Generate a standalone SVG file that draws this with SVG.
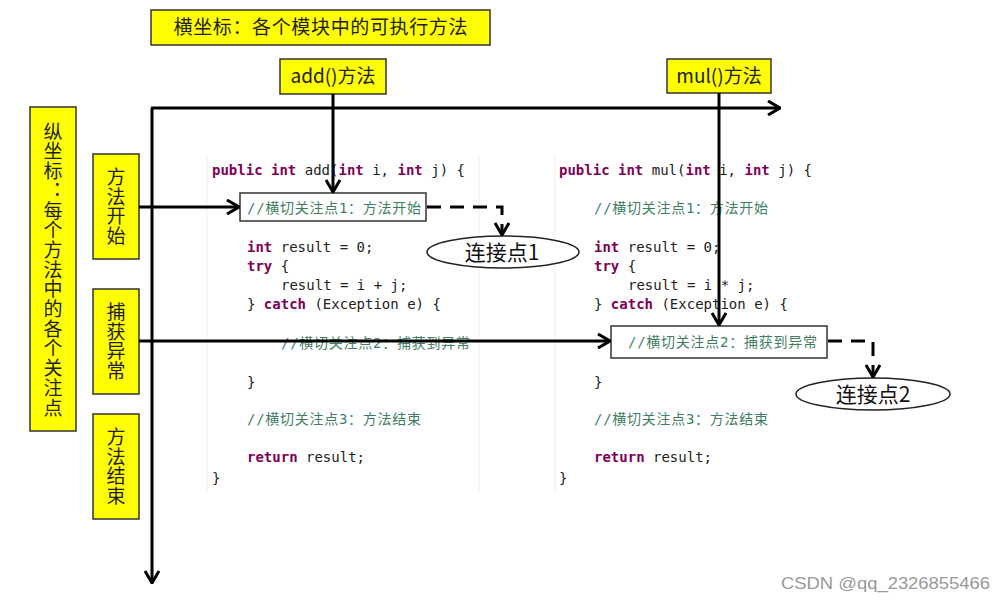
<svg xmlns="http://www.w3.org/2000/svg" width="1006" height="603" viewBox="0 0 1006 603">
<style>
.ybox{fill:#ffff00;stroke:#333;stroke-width:1.5}
.lbl{font-family:"Noto Sans CJK SC","Liberation Sans",sans-serif;font-size:19px;fill:#222}
.vl{font-family:"Noto Sans CJK SC","Liberation Sans",sans-serif;font-size:19px;fill:#222;writing-mode:vertical-rl;text-orientation:upright}
.code{font-family:"DejaVu Sans Mono","Noto Sans CJK SC",monospace;font-size:14px;fill:#222}
.kw{fill:#7f0055;font-weight:bold}
.cm{fill:#3f7f5f}
.conn{stroke:#000;stroke-width:3;fill:none}
.dash{stroke:#000;stroke-width:3;fill:none;stroke-dasharray:14 9}
.panel{stroke:#eeeeee;stroke-width:1}
.cbox{fill:#fff;stroke:#333;stroke-width:1.5}
.ell{fill:#fff;stroke:#222;stroke-width:1.5}
.jp{font-family:"Noto Sans CJK SC","Liberation Sans",sans-serif;font-size:21px;fill:#111}
</style>
<defs>
<marker id="arr" viewBox="0 0 14 16" refX="13" refY="8" markerWidth="14" markerHeight="16" markerUnits="userSpaceOnUse" orient="auto">
<path d="M1,1 L13,8 L1,15" fill="none" stroke="#000" stroke-width="3"/>
</marker>
</defs>
<rect width="1006" height="603" fill="#fff"/>

<g id="panel-add">
<line class="panel" x1="207" y1="155" x2="207" y2="492"/>
<line class="panel" x1="479" y1="155" x2="479" y2="492"/>
<text class="code" y="175"><tspan x="212" class="kw">public</tspan> <tspan class="kw">int</tspan> add(<tspan class="kw">int</tspan> i, <tspan class="kw">int</tspan> j) {</text>
<text class="code" x="247" y="252"><tspan class="kw">int</tspan> result = 0;</text>
<text class="code" x="247" y="271"><tspan class="kw">try</tspan> {</text>
<text class="code" x="281" y="290">result = i + j;</text>
<text class="code" x="247" y="309">} <tspan class="kw">catch</tspan> (Exception e) {</text>
<text class="code cm" x="281" y="348" textLength="189" lengthAdjust="spacing">//横切关注点2：捕获到异常</text>
<text class="code" x="247" y="387">}</text>
<text class="code cm" x="247" y="424" textLength="174" lengthAdjust="spacing">//横切关注点3：方法结束</text>
<text class="code" x="247" y="462"><tspan class="kw">return</tspan> result;</text>
<text class="code" x="212" y="483">}</text>
</g>

<g id="panel-mul">
<line class="panel" x1="555" y1="155" x2="555" y2="492"/>
<text class="code" y="175"><tspan x="559" class="kw">public</tspan> <tspan class="kw">int</tspan> mul(<tspan class="kw">int</tspan> i, <tspan class="kw">int</tspan> j) {</text>
<text class="code cm" x="594" y="213" textLength="174" lengthAdjust="spacing">//横切关注点1：方法开始</text>
<text class="code" x="594" y="252"><tspan class="kw">int</tspan> result = 0;</text>
<text class="code" x="594" y="271"><tspan class="kw">try</tspan> {</text>
<text class="code" x="628" y="290">result = i * j;</text>
<text class="code" x="594" y="309">} <tspan class="kw">catch</tspan> (Exception e) {</text>
<text class="code" x="594" y="387">}</text>
<text class="code cm" x="594" y="424" textLength="174" lengthAdjust="spacing">//横切关注点3：方法结束</text>
<text class="code" x="594" y="462"><tspan class="kw">return</tspan> result;</text>
<text class="code" x="559" y="483">}</text>
</g>

<g id="title">
<rect class="ybox" x="151" y="10" width="339" height="35"/>
<text class="lbl" x="320.5" y="34" text-anchor="middle" textLength="294" lengthAdjust="spacing">横坐标：各个模块中的可执行方法</text>
</g>
<g id="add-label">
<rect class="ybox" x="280" y="59" width="106" height="35"/>
<text class="lbl" x="333" y="83" text-anchor="middle">add()方法</text>
</g>
<g id="mul-label">
<rect class="ybox" x="667" y="59" width="104" height="34"/>
<text class="lbl" x="719" y="83" text-anchor="middle">mul()方法</text>
</g>
<g id="y-label">
<rect class="ybox" x="30" y="107" width="46" height="324"/>
<text class="vl" x="53" y="122" style="letter-spacing:0.7px">纵坐标：每个方法中的各个关注点</text>
</g>
<g id="start-label">
<rect class="ybox" x="93" y="154" width="46" height="105"/>
<text class="vl" x="116" y="167.5" style="letter-spacing:0.5px">方法开始</text>
</g>
<g id="catch-label">
<rect class="ybox" x="93" y="289" width="46" height="105"/>
<text class="vl" x="116" y="302.5" style="letter-spacing:0.5px">捕获异常</text>
</g>
<g id="end-label">
<rect class="ybox" x="93" y="414" width="46" height="105"/>
<text class="vl" x="116" y="427.5" style="letter-spacing:0.5px">方法结束</text>
</g>

<g id="jp1-box">
<rect class="cbox" x="240" y="193" width="186" height="28"/>
<text class="code cm" x="247" y="213" textLength="174" lengthAdjust="spacing">//横切关注点1：方法开始</text>
</g>
<g id="jp2-box">
<rect class="cbox" x="611" y="326" width="216" height="32"/>
<text class="code cm" x="628" y="347" textLength="189" lengthAdjust="spacing">//横切关注点2：捕获到异常</text>
</g>
<g id="jp1">
<ellipse class="ell" cx="503" cy="252" rx="76" ry="16"/>
<text class="jp" x="502" y="259.5" text-anchor="middle">连接点1</text>
</g>
<g id="jp2">
<ellipse class="ell" cx="873" cy="394" rx="77" ry="16"/>
<text class="jp" x="873" y="401.5" text-anchor="middle">连接点2</text>
</g>

<g id="connectors">
<path class="conn" d="M151,108 H780" marker-end="url(#arr)"/>
<path class="conn" d="M152,108 V583" marker-end="url(#arr)"/>
<path class="conn" d="M333,94 V192" marker-end="url(#arr)"/>
<path class="conn" d="M719,93 V325" marker-end="url(#arr)"/>
<path class="conn" d="M139,207 H239" marker-end="url(#arr)"/>
<path class="conn" d="M139,341 H610" marker-end="url(#arr)"/>
<path class="dash" d="M427,207 H502 V235" marker-end="url(#arr)"/>
<path class="dash" d="M828,341 H873 V377" marker-end="url(#arr)"/>
</g>

<text x="781" y="589" textLength="209" lengthAdjust="spacingAndGlyphs" style="font-family:'Liberation Sans',Arial,sans-serif;font-size:17px;fill:#999">CSDN @qq_2326855466</text>
</svg>
